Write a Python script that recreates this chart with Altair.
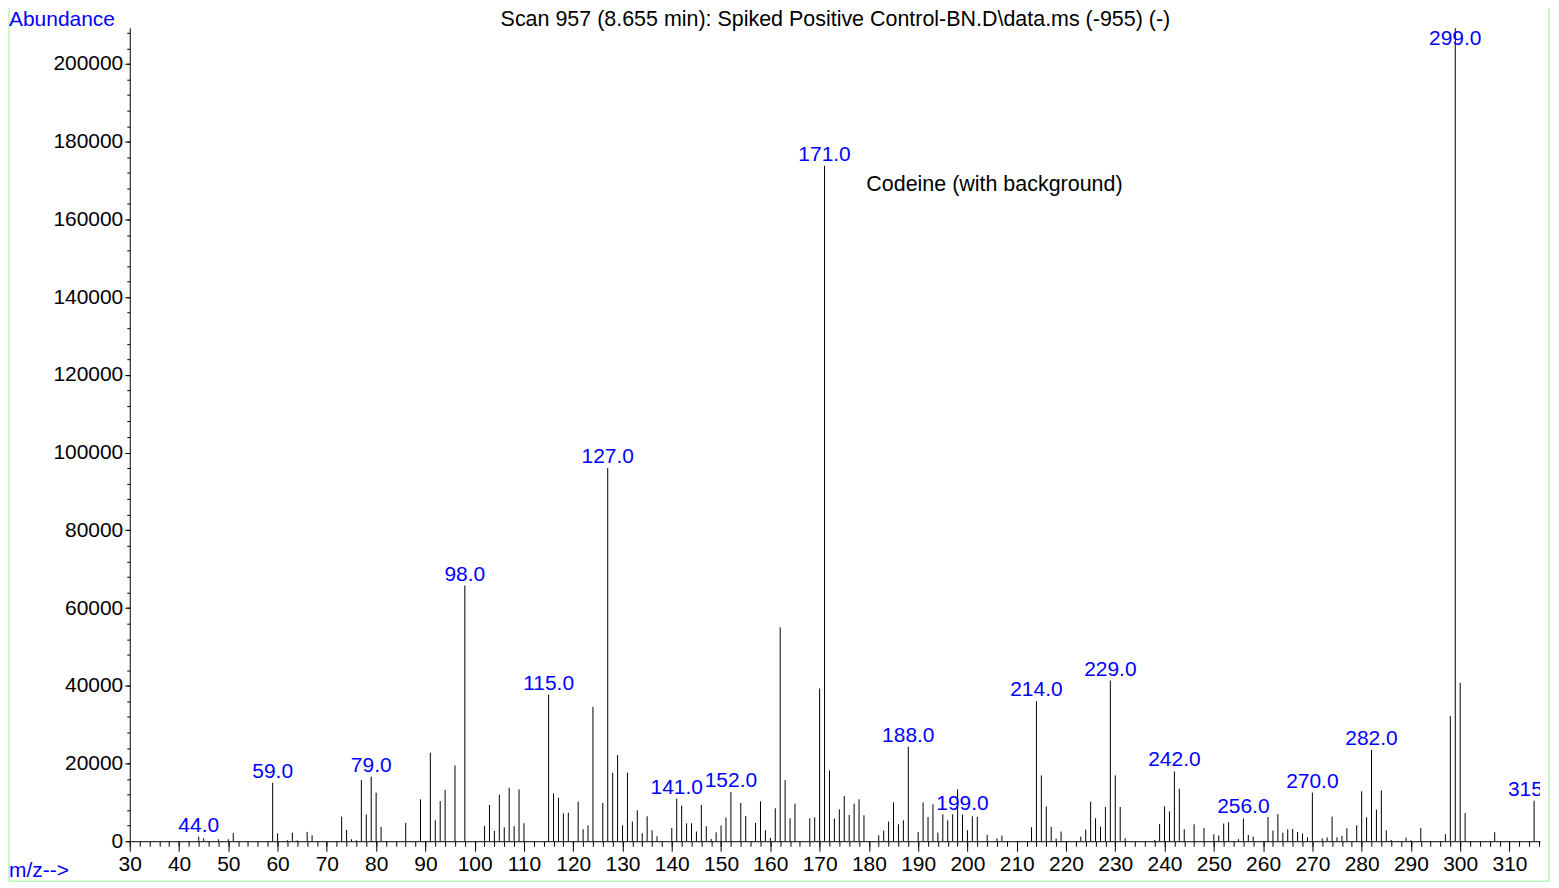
import altair as alt
import pandas as pd

mz = [44, 45, 48, 50, 51,
      59, 60, 62, 63, 64, 66, 67,
      73, 74, 75, 76, 77, 78, 79, 80, 81,
      86, 89, 91, 92, 93, 94, 96, 98,
      102, 103, 104, 105, 106, 107, 108, 109, 110,
      115, 116, 117, 118, 119, 121, 122, 123, 124,
      126, 127, 128, 129, 130, 131, 132, 133, 134, 135, 136, 137,
      140, 141, 142, 143, 144, 145, 146, 147, 148, 149, 150, 151, 152,
      154, 155, 157, 158, 159, 160, 161, 162, 163, 164, 165,
      168, 169, 170, 171, 172, 173, 174, 175, 176, 177, 178, 179,
      182, 183, 184, 185, 186, 187, 188,
      190, 191, 192, 193, 194, 195, 196, 197, 198, 199, 200, 201, 202, 204, 206, 207,
      213, 214, 215, 216, 217, 218, 219,
      223, 224, 225, 226, 227, 228, 229, 230, 231, 232,
      238, 239, 240, 241, 242, 243, 244, 246, 248,
      250, 251, 252, 253, 255, 256, 257, 258,
      261, 262, 263, 264, 265, 266, 267, 268, 269, 270,
      272, 273, 274, 275, 276, 277, 279, 280, 281, 282, 283, 284, 285, 286,
      289, 290, 292, 297, 298, 299, 300, 301, 307, 315]

abundance = [1200, 770, 500, 500, 2100,
             15070, 2050, 250, 2200, 250, 2400, 1540,
             6330, 2900, 500, 250, 15750, 6850, 16600, 12500, 3680,
             4710, 10780, 22770, 5390, 10350, 13180, 19510, 65800,
             3940, 9330, 2650, 11980, 3590, 13780, 3850, 13350, 4620,
             37740, 12320, 11210, 7190, 7360, 10180, 3080, 4110, 34580,
             9840, 96000, 17630, 22170, 4110, 17630, 5050, 7960, 2050, 6420, 2820, 1280,
             3420, 10950, 9160, 4620, 4620, 2480, 9330, 3850, 600, 2310, 4020, 6080, 12670,
             9840, 6500, 4710, 10270, 2820, 860, 8470, 55020, 15750, 5900, 9670,
             5900, 6160, 39280, 173800, 18230, 5820, 8220, 11640, 6760, 9670, 10780, 6680,
             1540, 2740, 5050, 10010, 4360, 5390, 24300,
             2350, 10000, 6250, 9500, 2220, 6930, 5390, 6930, 13350, 6850, 2820, 6420, 6250, 1630, 770, 1460,
             3590, 36050, 16940, 8900, 3680, 680, 2480,
             1200, 3000, 10180, 5900, 3770, 8810, 41330, 16940, 8810, 770,
             350, 4400, 8990, 7650, 17950, 13520, 3080, 4360, 3420,
             1800, 1460, 4540, 4880, 510, 5860, 1630, 1200,
             6250, 2740, 6980, 2220, 3080, 3170, 2400, 1970, 1030, 12500,
             720, 980, 6330, 1000, 1400, 3340, 4110, 12840, 6160, 23500, 8130, 13090, 2820, 340,
             940, 260, 3420, 1800, 32180, 209200, 40740, 7270, 2310, 10440]

labeled_mz = [44, 59, 79, 98, 115, 127, 141, 152, 171, 188, 199, 214, 229, 242,
              256, 270, 282, 299, 315]

title_text = "Scan 957 (8.655 min): Spiked Positive Control-BN.D\\data.ms (-955) (-)"
annotation_text = "Codeine (with background)"
y_title_text = "Abundance"
x_title_text = "m/z-->"

x_major = list(range(30, 311, 10))
x_minor = list(range(30, 317, 2))
y_major = list(range(0, 200001, 20000))
y_minor = list(range(0, 208001, 4000))

df = pd.DataFrame({"mz": mz, "abundance": abundance})
lab = df[df["mz"].isin(labeled_mz)].copy()
lab["label"] = lab["mz"].map(lambda v: f"{v:.1f}")

W, H = 1413, 815
FONT = "Liberation Sans"
FS = 21
BLUE = "#0000ff"
GREEN = "#99ee99"

xscale = alt.Scale(domain=[30, 316.2], nice=False, zero=False)
yscale = alt.Scale(domain=[0, 209300], nice=False, zero=True)

peaks = alt.Chart(df).mark_rule(color="black", strokeWidth=1).encode(
    x=alt.X("mz:Q", scale=xscale,
            axis=alt.Axis(values=x_minor, orient="bottom", labels=False, tickSize=5,
                          domain=False, title=None, grid=False, tickColor="black")),
    y=alt.Y("abundance:Q", scale=yscale,
            axis=alt.Axis(values=y_minor, orient="left", labels=False, tickSize=3,
                          domain=False, title=None, grid=False, tickColor="black")),
    y2=alt.datum(0),
)

labels = alt.Chart(lab).transform_calculate(
    ly="min(datum.abundance, 203600)"
).mark_text(color=BLUE, font=FONT, fontSize=FS, dy=-5, baseline="alphabetic",
            align="center", clip=True).encode(
    x=alt.X("mz:Q", scale=xscale,
            axis=alt.Axis(values=x_major, orient="bottom", tickSize=10, domain=True,
                          domainColor="black", tickColor="black", title=None, grid=False,
                          labelFont=FONT, labelFontSize=FS, labelColor="black",
                          labelPadding=2, format="d", labelFlush=False)),
    y=alt.Y("ly:Q", scale=yscale,
            axis=alt.Axis(values=y_major, orient="left", tickSize=5, domain=True,
                          domainColor="black", tickColor="black", title=None, grid=False,
                          labelFont=FONT, labelFontSize=FS, labelColor="black",
                          labelPadding=2, format="d", labelFlush=False)),
    text="label:N",
)

one = pd.DataFrame({"k": [0]})

frame = alt.Chart(one).mark_rect(fillOpacity=0, stroke=GREEN, strokeWidth=1).encode(
    x=alt.value(-121), x2=alt.value(1422), y=alt.value(-60), y2=alt.value(855)
)

title = alt.Chart(one).mark_text(font=FONT, fontSize=21.5, color="black", align="center",
                                 baseline="alphabetic").encode(
    x=alt.value(707), y=alt.value(-2), text=alt.value(title_text)
)

ytitle = alt.Chart(one).mark_text(font=FONT, fontSize=FS, color=BLUE, align="left",
                                  baseline="alphabetic").encode(
    x=alt.value(-121), y=alt.value(-2), text=alt.value(y_title_text)
)

xtitle = alt.Chart(one).mark_text(font=FONT, fontSize=FS, color=BLUE, align="left",
                                  baseline="alphabetic").encode(
    x=alt.value(-121), y=alt.value(851), text=alt.value(x_title_text)
)

annot = alt.Chart(one).mark_text(font=FONT, fontSize=21.5, color="black", align="left",
                                 baseline="alphabetic").encode(
    x=alt.value(738), y=alt.value(164), text=alt.value(annotation_text)
)

chart = alt.layer(peaks, labels, frame, title, ytitle, xtitle, annot).resolve_axis(
    x="independent", y="independent"
).properties(
    width=W, height=H,
    padding={"left": 122, "top": 19, "right": 11, "bottom": 42},
    autosize=alt.AutoSizeParams(type="none"),
).configure_view(stroke=None)

chart.save("out.html", embed_options={"renderer": "svg", "actions": False})
